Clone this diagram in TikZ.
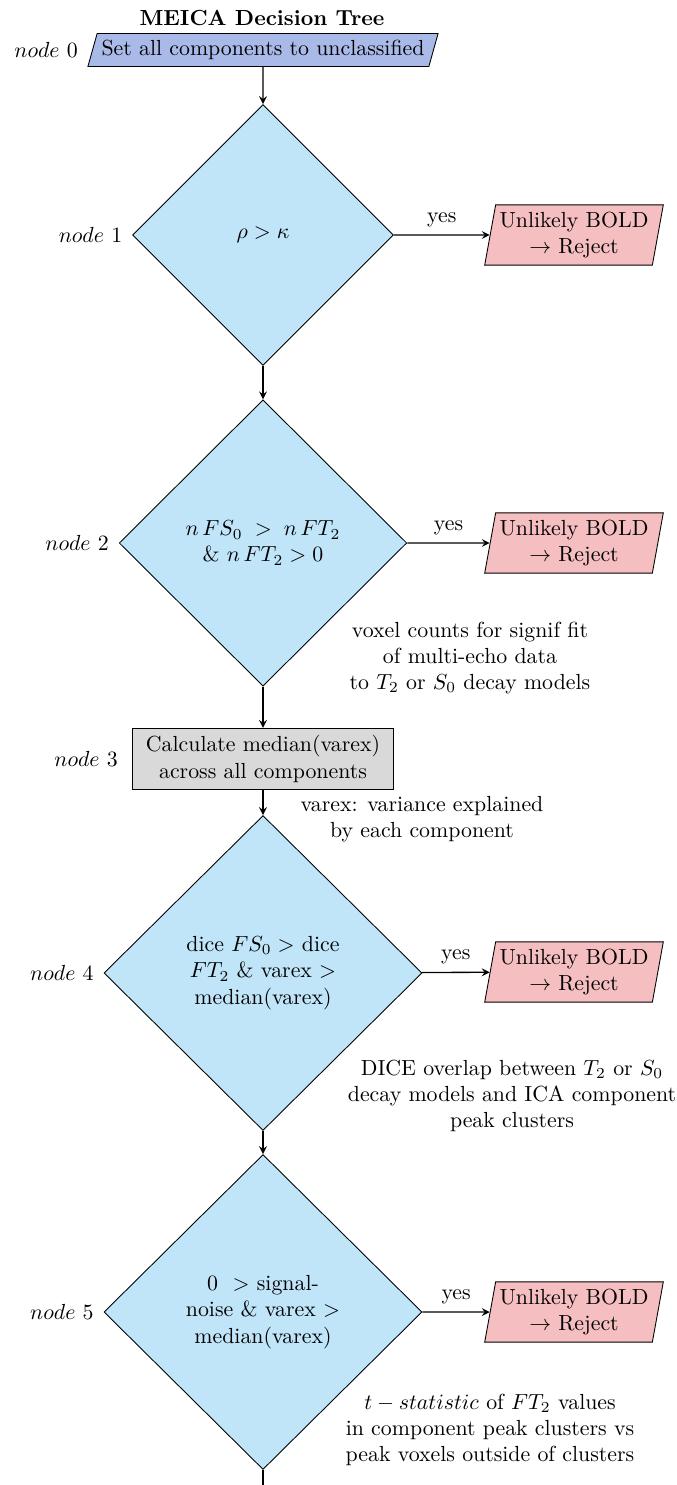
\documentclass[tikz,border=0pt]{standalone}
\usetikzlibrary{shapes.geometric,positioning}
\definecolor{startblue}{RGB}{170,186,232}
\definecolor{decblue}{RGB}{192,228,248}
\definecolor{rejpink}{RGB}{245,190,192}
\tikzset{
    startbox/.style={draw, trapezium, trapezium left angle=72, trapezium right angle=108, trapezium stretches=true, fill=startblue, minimum width=5.6cm, minimum height=0.53cm, inner sep=2pt},
    decision/.style={draw, diamond, fill=decblue, align=center, inner sep=0pt},
    rejectbox/.style={draw, trapezium, trapezium left angle=78, trapezium right angle=102, trapezium stretches=true, fill=rejpink, align=center, minimum width=2.9cm, minimum height=0.97cm, inner sep=1pt},
    calcbox/.style={draw, rectangle, fill=gray!30, align=center, minimum width=4.2cm, minimum height=0.97cm},
    note/.style={align=center},
    link/.style={->, semithick},
}
\begin{document}
\begin{tikzpicture}[x=0.0161cm, y=-0.0161cm, >=stealth]
    \useasboundingbox (0,0) rectangle (677,1485);
    \node[font=\bfseries] (title) at (262,18) {MEICA Decision Tree};

    % node 0
    \node[startbox] (n0) at (263,50) {Set all components to unclassified};
    \node[left=3pt of n0] (l0) {$node$ 0};

    % node 1
    \node[decision, minimum width=4.2cm, minimum height=4.2cm] (d1) at (263,235) {$\rho > \kappa$};
    \node[left=1pt of d1] (l1) {$node$ 1};
    \node[rejectbox] (r1) at (574,235) {Unlikely BOLD\\$\rightarrow$ Reject};
    \draw[link] (n0) -- (d1);
    \draw[link] (d1) -- node[above] {yes} (r1);

    % node 2
    \node[decision, minimum width=4.63cm, minimum height=4.61cm] (d2) at (263,543) {$n\,FS_0\;>\;n\,FT_2$\\\& $n\,FT_2 > 0$};
    \node[left=1pt of d2] (l2) {$node$ 2};
    \node[rejectbox] (r2) at (574,543) {Unlikely BOLD\\$\rightarrow$ Reject};
    \draw[link] (d1) -- (d2);
    \draw[link] (d2) -- node[above] {yes} (r2);
    \node[note] (c2) at (470,658) {voxel counts for signif fit\\of multi-echo data\\to $T_2$ or $S_0$ decay models};

    % node 3
    \node[calcbox] (b3) at (263,759) {Calculate median(varex)\\across all components};
    \node[left=3pt of b3] (l3) {$node$ 3};
    \draw[link] (d2) -- (b3);
    \node[note] (c3) at (422,819) {varex: variance explained\\by each component};

    % node 4
    \node[decision, minimum width=5.12cm, minimum height=5.07cm] (d4) at (263,973) {dice $FS_0 >$ dice\\$FT_2$ \& varex $>$\\median(varex)};
    \node[left=1pt of d4] (l4) {$node$ 4};
    \node[rejectbox] (r4) at (574,972) {Unlikely BOLD\\$\rightarrow$ Reject};
    \draw[link] (b3) -- (d4);
    \draw[link] (d4) -- node[above] {yes} (r4);
    \node[note] (c4) at (512,1096) {DICE overlap between $T_2$ or $S_0$\\decay models and ICA component\\peak clusters};

    % node 5
    \node[decision, minimum width=5.12cm, minimum height=5.07cm] (d5) at (263,1312) {0 \ $>$ signal-\\noise \& varex $>$\\median(varex)};
    \node[left=1pt of d5] (l5) {$node$ 5};
    \node[rejectbox] (r5) at (574,1312) {Unlikely BOLD\\$\rightarrow$ Reject};
    \draw[link] (d4) -- (d5);
    \draw[link] (d5) -- node[above] {yes} (r5);
    \node[note] (c5) at (490,1430) {$t-statistic$ of $FT_2$ values\\in component peak clusters vs\\peak voxels outside of clusters};

    % continues below
    \coordinate (down) at (263,1485);
    \draw[semithick] (d5) -- (down);
\end{tikzpicture}
\end{document}
